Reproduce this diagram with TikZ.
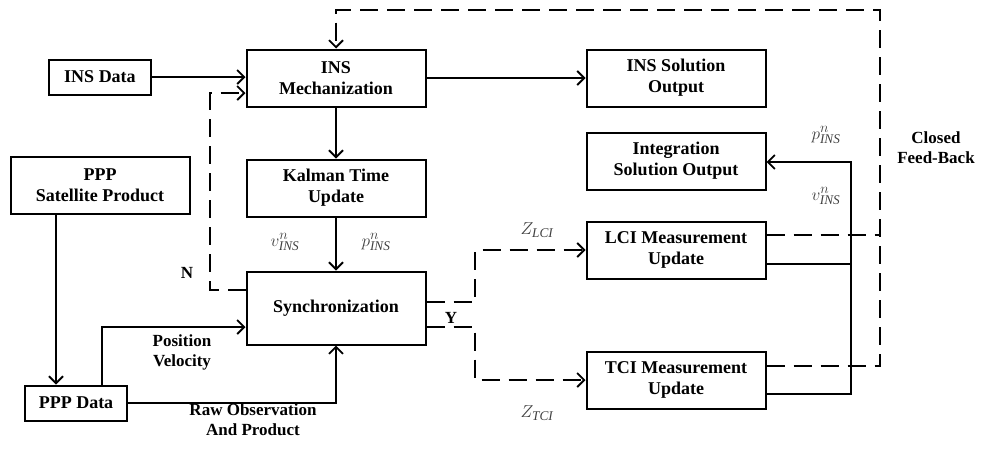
\documentclass[tikz,border=0pt]{standalone}
\usepackage{fontspec}
\setmainfont{Liberation Serif}
\usetikzlibrary{arrows.meta}
\tikzset{
  block/.style={draw, line width=2pt, align=center, font=\fontsize{18}{21}\selectfont\bfseries,
    minimum width=179pt, minimum height=57pt, inner sep=2pt},
  arr/.style={line width=1.8pt, -{Straight Barb[length=7pt,width=14pt,line width=1.8pt]}},
  dasharr/.style={arr, dash pattern=on 18pt off 9pt},
  lbl/.style={font=\fontsize{17}{20}\selectfont\bfseries, align=center},
  sym/.style={font=\fontsize{19}{19}\selectfont, text=black!75}
}
\begin{document}
\begin{tikzpicture}[x=1pt,y=-1pt]
      \useasboundingbox (0,0) rectangle (981,448);

      % blocks
      \node[block, minimum width=102pt, minimum height=35pt] (insdata) at (100,77) {INS Data};
      \node[block] (insmech) at (336,78) {INS\\Mechanization};
      \node[block] (insout) at (676,78) {INS Solution\\Output};
      \node[block] (integ) at (676,161) {Integration\\Solution Output};
      \node[block] (pppsat) at (100,185) {PPP\\Satellite Product};
      \node[block] (kalman) at (336,188) {Kalman Time\\Update};
      \node[block, minimum height=73pt] (sync) at (336,308) {Synchronization};
      \node[block, minimum width=102pt, minimum height=35pt] (pppdata) at (76,403) {PPP Data};
      \node[block] (lci) at (676,250) {LCI Measurement\\Update};
      \node[block] (tci) at (676,380) {TCI Measurement\\Update};

      % solid connectors
      \draw[arr] (insdata.east) -- (insmech.west |- insdata.east);
      \draw[arr] (insmech) -- (insout);
      \draw[arr] (insmech) -- (kalman);
      \draw[arr] (kalman) -- (sync);
      \draw[arr] (pppsat.south -| 56,0) -- (pppdata.north -| 56,0);
      \draw[arr] (pppdata.north -| 102,0) |- (sync.west |- 0,327);
      \draw[arr] (pppdata.east) -| (sync.south);
      \draw[line width=1.8pt] (lci.east |- 0,264) -- (851,264);
      \draw[arr] (tci.east |- 0,394) -| (851,162) -- (integ.east |- 0,162);

      % dashed connectors
      \draw[dasharr] (sync.west |- 0,290) -| (210,93) -- (insmech.west |- 0,93);
      \draw[dasharr] (sync.east |- 0,302) -| (475,250) -- (lci.west |- 0,250);
      \draw[dasharr] (sync.east |- 0,327) -| (475,380) -- (tci.west |- 0,380);
      \draw[line width=1.8pt, dash pattern=on 18pt off 9pt] (lci.east |- 0,235) -- (880,235);
      \draw[dasharr] (tci.east |- 0,366) -| (880,10) -| (insmech.north);

      % labels
      \node[sym] at (285,242) {$v^{n}_{\mathit{INS}}$};
      \node[sym] at (376,242) {$p^{n}_{\mathit{INS}}$};
      \node[sym] at (826,135) {$p^{n}_{\mathit{INS}}$};
      \node[sym] at (826,196) {$v^{n}_{\mathit{INS}}$};
      \node[sym] at (537,230) {$Z_{\mathit{LCI}}$};
      \node[sym] at (537,413) {$Z_{\mathit{TCI}}$};
      \node[lbl] at (187,273) {N};
      \node[lbl] at (451,318) {Y};
      \node[lbl] at (182,352) {Position\\Velocity};
      \node[lbl] at (253,420) {Raw Observation\\And Product};
      \node[lbl] at (936,148) {Closed\\Feed-Back};
    \end{tikzpicture}
\end{document}
